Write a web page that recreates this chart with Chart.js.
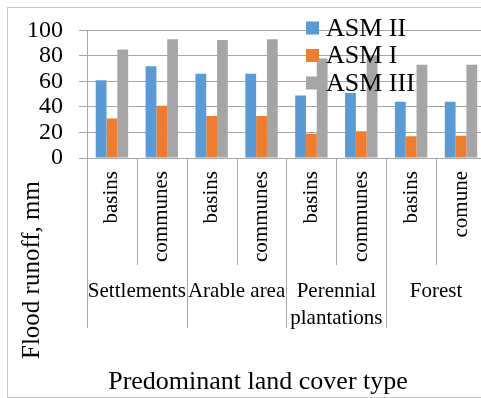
<!DOCTYPE html>
<html>
<head>
<meta charset="utf-8">
<script src="https://cdn.jsdelivr.net/npm/chart.js@4.4.1/dist/chart.umd.min.js"></script>
<style>
  html, body { margin: 0; padding: 0; background: #fff; overflow: hidden; }
  #wrap { position: relative; width: 481px; height: 398px; overflow: hidden; }
  #frame { position: absolute; left: 7px; top: 7px; width: 520px; height: 389px; border: 1px solid #c8c8c8; }
  #chart { position: absolute; left: 0; top: 0; }
</style>
</head>
<body>
<div id="wrap">
  <div id="frame"></div>
  <canvas id="chart" width="500" height="398"></canvas>
</div>
<script>
/* ---- data ---- */
const subLabels  = ['basins', 'communes', 'basins', 'communes', 'basins', 'communes', 'basins', 'comune'];
const groupNames = ['Settlements', 'Arable area', ['Perennial', 'plantations'], 'Forest'];
const groupSize  = [2, 2, 2, 2];
const yTicks     = [0, 20, 40, 60, 80, 100];

const seriesNames = ['ASM II', 'ASM I', 'ASM III'];
const asm2 = [61, 72, 66, 66, 49, 51, 44, 44];
const asm1 = [31, 41, 33, 33, 19, 21, 17, 17.5];
const asm3 = [85, 93, 92.5, 93, 78, 80, 73, 73];
const colors = ['#5B9BD5', '#ED7D31', '#A5A5A5'];

const FONT = "'Liberation Serif', 'Times New Roman', serif";
const LINE = '#a6a6a6';

/* separators, group labels, axis titles and legend */
const landCoverPlugin = {
  id: 'landCover',
  afterDraw(chart) {
    const ctx = chart.ctx;
    const xs = chart.scales.x;
    const area = chart.chartArea;
    const n = subLabels.length;

    const edge = i => {
      if (i === 0) return area.left;
      if (i === n) return area.right;
      return (xs.getPixelForValue(i - 1) + xs.getPixelForValue(i)) / 2;
    };

    // group starts
    const starts = [0];
    groupSize.forEach(s => starts.push(starts[starts.length - 1] + s));

    ctx.save();
    ctx.strokeStyle = LINE;
    ctx.lineWidth = 1;
    for (let i = 0; i <= n; i++) {
      const x = Math.round(edge(i)) + 0.5;
      const bottom = starts.includes(i) ? 328 : 265;
      ctx.beginPath();
      ctx.moveTo(x, area.bottom);
      ctx.lineTo(x, bottom);
      ctx.stroke();
    }

    // group labels
    ctx.fillStyle = '#000';
    ctx.font = '21px ' + FONT;
    ctx.textAlign = 'center';
    ctx.textBaseline = 'middle';
    groupNames.forEach((name, g) => {
      const cx = (edge(starts[g]) + edge(starts[g + 1])) / 2;
      const lines = Array.isArray(name) ? name : [name];
      lines.forEach((t, k) => ctx.fillText(t, cx, 291 + k * 27));
    });

    // axis titles
    ctx.font = '26px ' + FONT;
    ctx.fillText('Predominant land cover type', 258, 382);
    ctx.save();
    ctx.translate(32, 270);
    ctx.rotate(-Math.PI / 2);
    ctx.font = '25px ' + FONT;
    ctx.fillText('Flood runoff, mm', 0, 0);
    ctx.restore();

    // legend
    ctx.font = '26px ' + FONT;
    ctx.textAlign = 'left';
    chart.data.datasets.forEach((ds, k) => {
      const cy = 28 + k * 27.5;
      ctx.fillStyle = ds.backgroundColor;
      ctx.fillRect(306, cy - 6.5, 13, 13);
      ctx.fillStyle = '#000';
      ctx.fillText(ds.label, 326, cy + 1);
    });
    ctx.restore();
  }
};

new Chart(document.getElementById('chart'), {
  type: 'bar',
  data: {
    labels: subLabels,
    datasets: [asm2, asm1, asm3].map((d, k) => ({
      label: seriesNames[k],
      data: d,
      backgroundColor: colors[k],
      categoryPercentage: 0.65,
      barPercentage: 1.0
    }))
  },
  options: {
    responsive: false,
    animation: false,
    layout: { padding: { left: 0, top: 26, right: 13, bottom: 0 } },
    plugins: { legend: { display: false }, tooltip: { enabled: false } },
    scales: {
      x: {
        grid: { display: false, drawTicks: false },
        border: { display: true, color: LINE },
        ticks: {
          autoSkip: false, maxRotation: 90, minRotation: 90,
          padding: 13, color: '#000', font: { family: FONT, size: 21 }
        },
        afterFit(scale) { scale.height = 240; }
      },
      y: {
        min: 0, max: 100,
        afterBuildTicks(scale) { scale.ticks = yTicks.map(v => ({ value: v })); },
        grid: { color: LINE, tickLength: 8 },
        border: { display: true, color: LINE },
        ticks: { autoSkip: false, padding: 16, color: '#000', font: { family: FONT, size: 24 } },
        afterFit(scale) { scale.width = 87; }
      }
    }
  },
  plugins: [landCoverPlugin]
});
</script>
</body>
</html>
